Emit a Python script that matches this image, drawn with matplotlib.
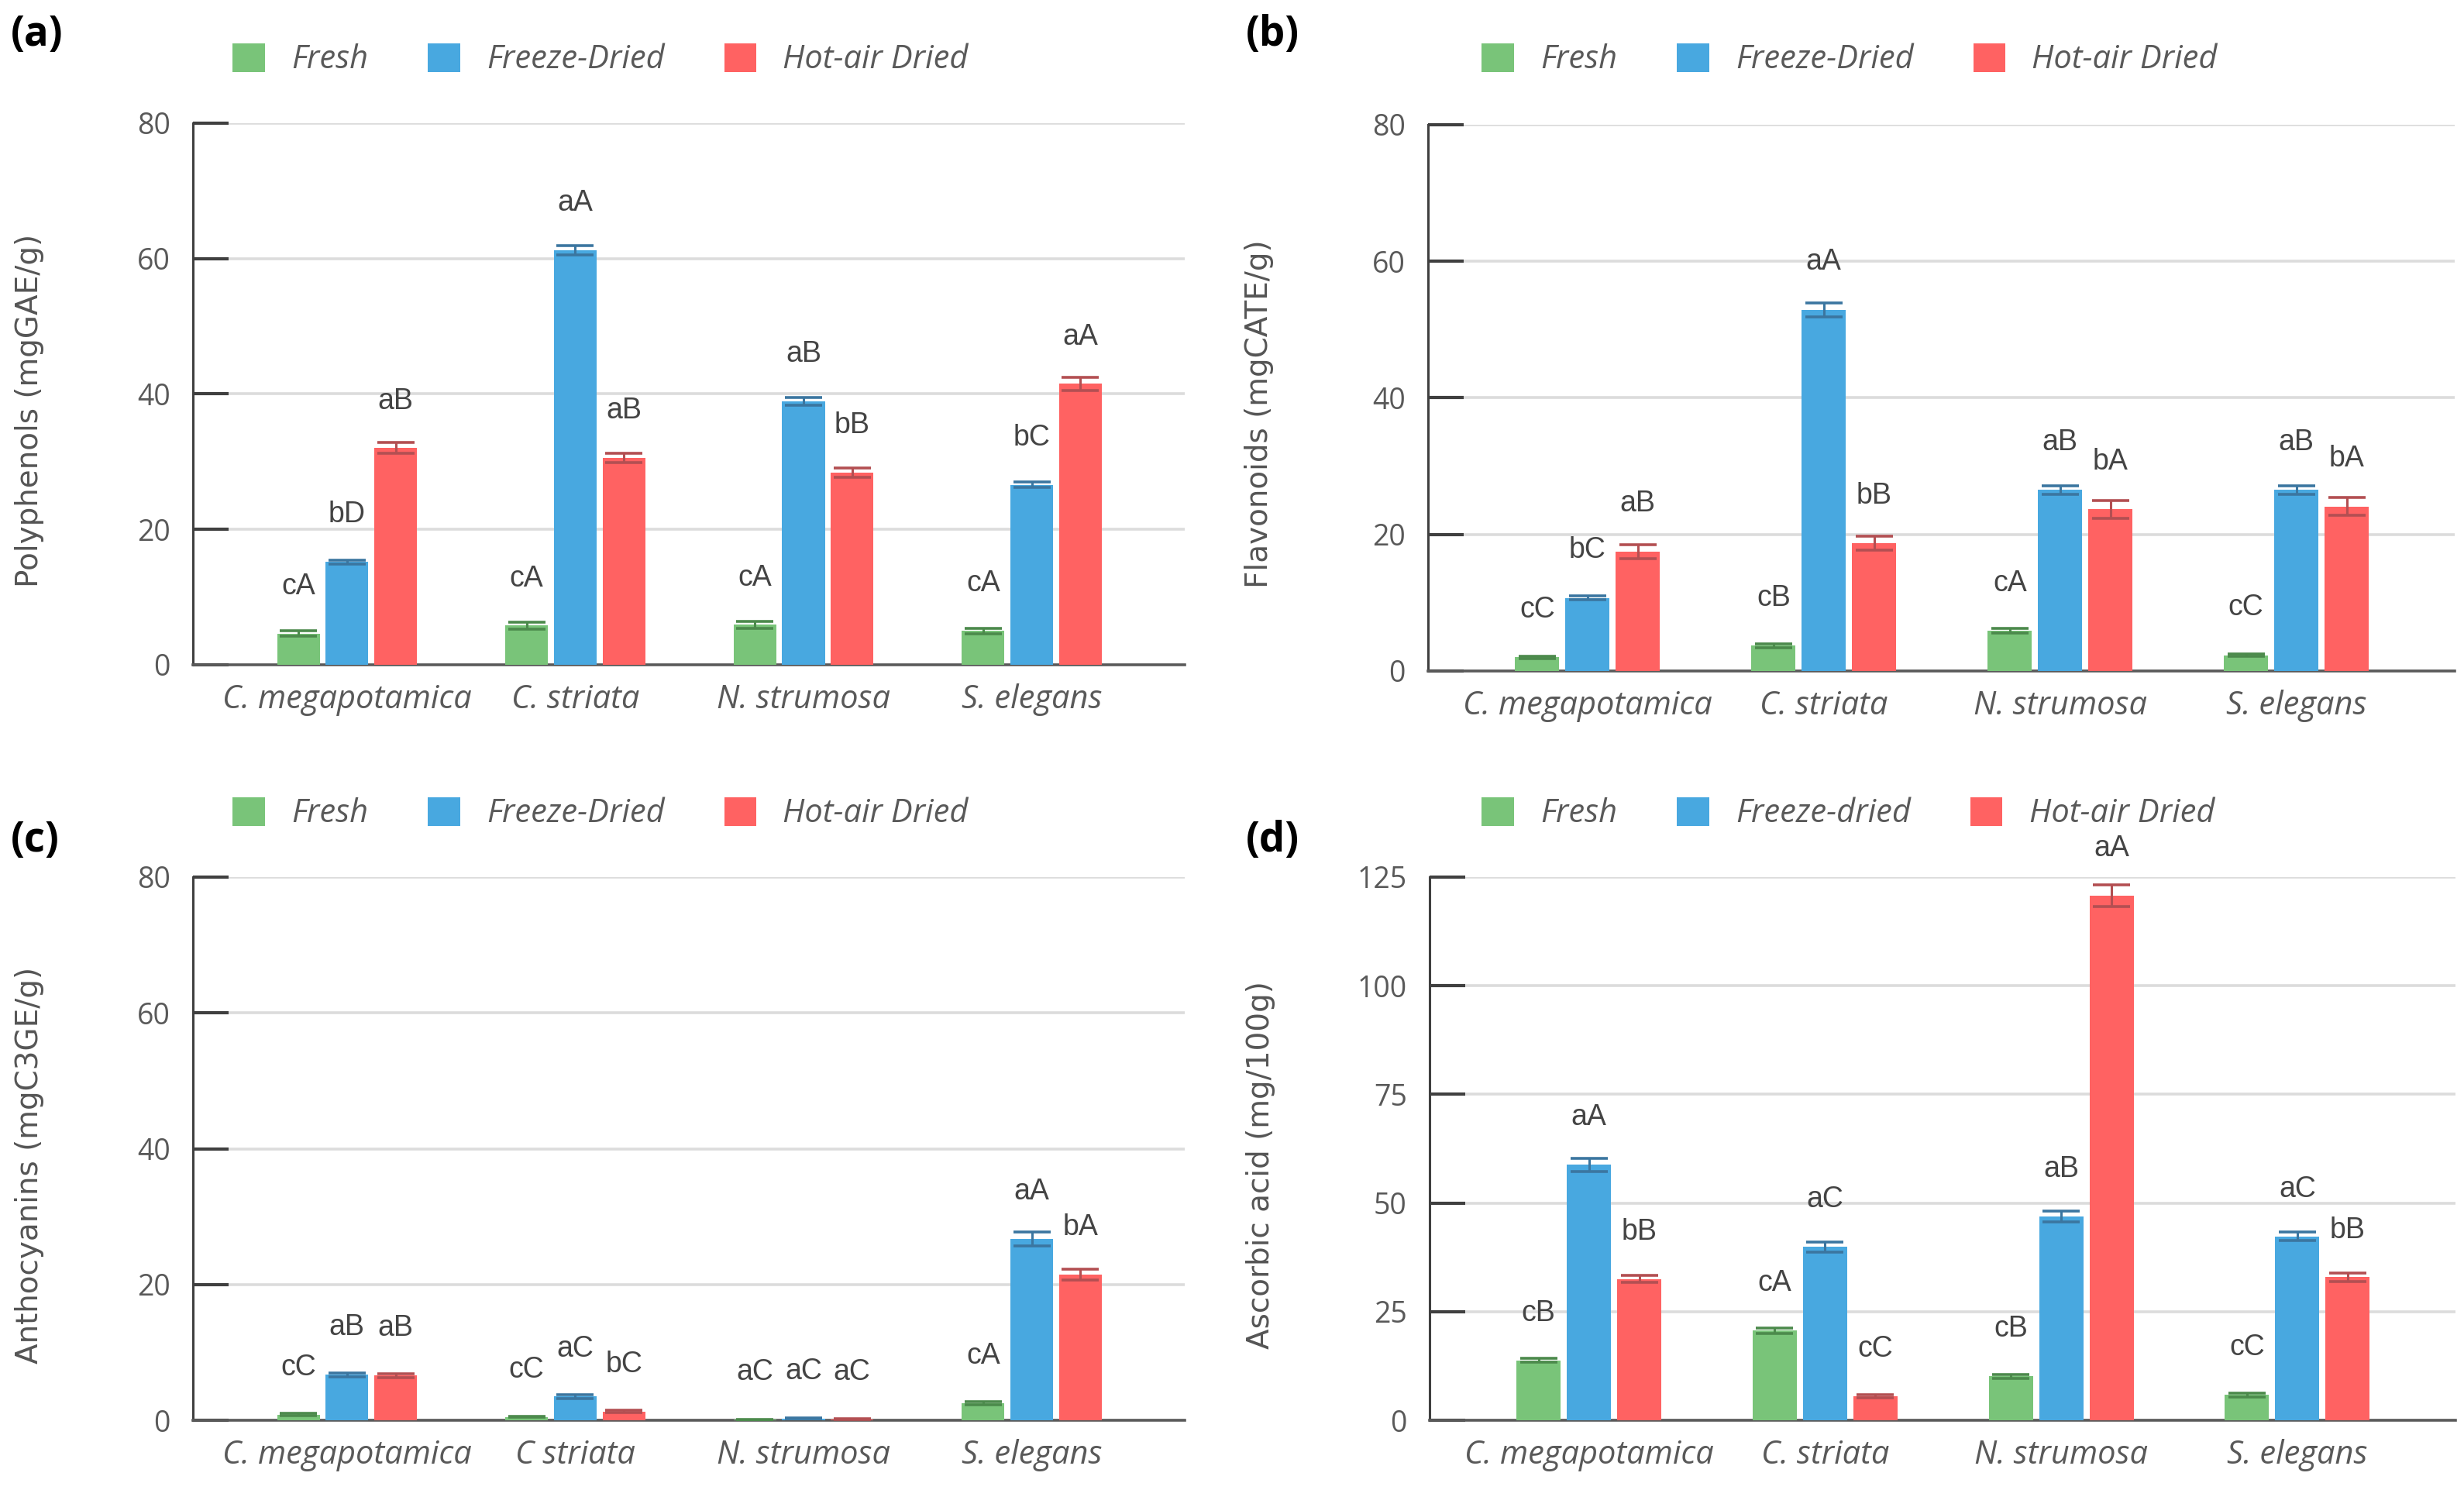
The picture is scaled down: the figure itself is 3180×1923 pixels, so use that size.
import numpy as np
import matplotlib
matplotlib.use("Agg")
from matplotlib import pyplot as plt

# categories and series
species = ["C. megapotamica", "C. striata", "N. strumosa", "S. elegans"]
species_c = ["C. megapotamica", "C striata", "N. strumosa", "S. elegans"]
treat = ["Fresh", "Freeze-Dried", "Hot-air Dried"]
treat_d = ["Fresh", "Freeze-dried", "Hot-air Dried"]

# (a) polyphenols  rows: fresh, freeze-dried, hot-air dried
poly_mean = [[4.6, 5.8, 5.9, 5.0], [15.2, 61.2, 38.9, 26.6], [32.0, 30.6, 28.4, 41.5]]
poly_err = [[0.4, 0.5, 0.5, 0.4], [0.3, 0.7, 0.6, 0.4], [0.8, 0.7, 0.7, 1.0]]
poly_let = [["cA", "cA", "cA", "cA"], ["bD", "aA", "aB", "bC"], ["aB", "aB", "bB", "aA"]]

# (b) flavonoids
flav_mean = [[2.0, 3.7, 5.9, 2.3], [10.7, 52.9, 26.5, 26.5], [17.5, 18.7, 23.7, 24.1]]
flav_err = [[0.2, 0.3, 0.3, 0.2], [0.3, 1.0, 0.6, 0.6], [1.0, 1.0, 1.3, 1.3]]
flav_let = [["cC", "cB", "cA", "cC"], ["bC", "aA", "aB", "aB"], ["aB", "bB", "bA", "bA"]]

# (c) anthocyanins
anth_mean = [[0.85, 0.5, 0.1, 2.5], [6.7, 3.5, 0.25, 26.7], [6.6, 1.3, 0.15, 21.4]]
anth_err = [[0.15, 0.1, 0.05, 0.2], [0.3, 0.3, 0.05, 1.0], [0.3, 0.2, 0.05, 0.8]]
anth_let = [["cC", "cC", "aC", "cA"], ["aB", "aC", "aC", "aA"], ["aB", "bC", "aC", "bA"]]

# (d) ascorbic acid
asc_mean = [[13.8, 20.6, 10.1, 5.8], [58.8, 39.9, 46.9, 42.3], [32.5, 5.5, 120.8, 32.9]]
asc_err = [[0.5, 0.6, 0.4, 0.4], [1.5, 1.2, 1.2, 1.0], [0.8, 0.4, 2.5, 1.0]]
asc_let = [["cB", "cA", "cB", "cC"], ["aA", "aC", "aB", "aC"], ["bB", "cC", "aA", "bB"]]

colors = ["#79c479", "#48a8e0", "#ff6262"]
ecolors = ["#4c8a4c", "#3b76a0", "#b34f52"]

W, H = 3180, 1923
fig = plt.figure(figsize=(W / 100, H / 100), dpi=100)


def panel(rect, means, errs, lets, ymax, yticks, ylabel, names, labels, leg_xy, tag, tag_xy):
    ax = fig.add_axes(rect)
    x = np.arange(len(names))
    bw = 0.187
    off = 0.213
    bars = []
    for i in range(3):
        b = ax.bar(x + (i - 1) * off, means[i], bw, color=colors[i], yerr=errs[i],
                   error_kw=dict(ecolor=ecolors[i], elinewidth=2.2, capsize=17, capthick=2.6),
                   zorder=3)
        bars.append(b)
        for j in range(len(names)):
            ax.text(x[j] + (i - 1) * off, means[i][j] + 0.087 * ymax, lets[i][j],
                    ha="center", va="center", fontsize=27, color="#444444",
                    family="Liberation Sans", zorder=4)
    ax.set_xlim(-0.675, 3.67)
    ax.set_ylim(0, ymax)
    ax.set_yticks(yticks)
    ax.yaxis.grid(True, color="#dcdcdc", linewidth=2.6, zorder=0)
    ax.set_axisbelow(True)
    for s in ["top", "right"]:
        ax.spines[s].set_visible(False)
    ax.spines["left"].set_color("#404040")
    ax.spines["left"].set_linewidth(2.2)
    ax.spines["bottom"].set_color("#5a5a5a")
    ax.spines["bottom"].set_linewidth(2.6)
    ax.tick_params(axis="y", direction="in", length=33, width=3, color="#404040",
                   pad=21, labelsize=27, labelcolor="#595959")
    ax.tick_params(axis="x", length=0, pad=17)
    ax.set_xticks(x)
    ax.set_xticklabels(names, fontsize=30, style="italic", color="#595959", family="Open Sans")
    for t in ax.get_yticklabels():
        t.set_family("Open Sans")
    ax.set_ylabel(ylabel, fontsize=28, color="#555555", family="DejaVu Sans")
    ax.yaxis.set_label_coords(-0.15, 0.47)
    ax.legend(bars, labels, loc="center left",
              bbox_to_anchor=(leg_xy[0] / W, 1 - leg_xy[1] / H), bbox_transform=fig.transFigure,
              ncol=3, frameon=False, handlelength=1.0, handleheight=1.0, handletextpad=0.82,
              columnspacing=1.85, borderpad=0, borderaxespad=0,
              prop=dict(family="Open Sans", style="italic", size=30), labelcolor="#595959")
    fig.text(tag_xy[0] / W, 1 - tag_xy[1] / H, tag, fontsize=38, fontweight="bold",
             family="Open Sans", ha="left", va="center")
    return ax


def rect(l, r, t, b):
    return [l / W, 1 - b / H, (r - l) / W, (b - t) / H]


panel(rect(249, 1529, 159, 858), poly_mean, poly_err, poly_let, 80, [0, 20, 40, 60, 80],
      "Polyphenols (mgGAE/g)", species, treat, (300, 77), "(a)", (14, 45))
panel(rect(1843, 3168, 161, 866), flav_mean, flav_err, flav_let, 80, [0, 20, 40, 60, 80],
      "Flavonoids (mgCATE/g)", species, treat, (1912, 77), "(b)", (1608, 45))
panel(rect(249, 1529, 1132, 1833), anth_mean, anth_err, anth_let, 80, [0, 20, 40, 60, 80],
      "Anthocyanins (mgC3GE/g)", species_c, treat, (300, 1050), "(c)", (14, 1085))
panel(rect(1845, 3169, 1132, 1833), asc_mean, asc_err, asc_let, 125, [0, 25, 50, 75, 100, 125],
      "Ascorbic acid (mg/100g)", species, treat_d, (1912, 1050), "(d)", (1608, 1085))

fig.savefig("out.png", dpi=100, facecolor="white")
